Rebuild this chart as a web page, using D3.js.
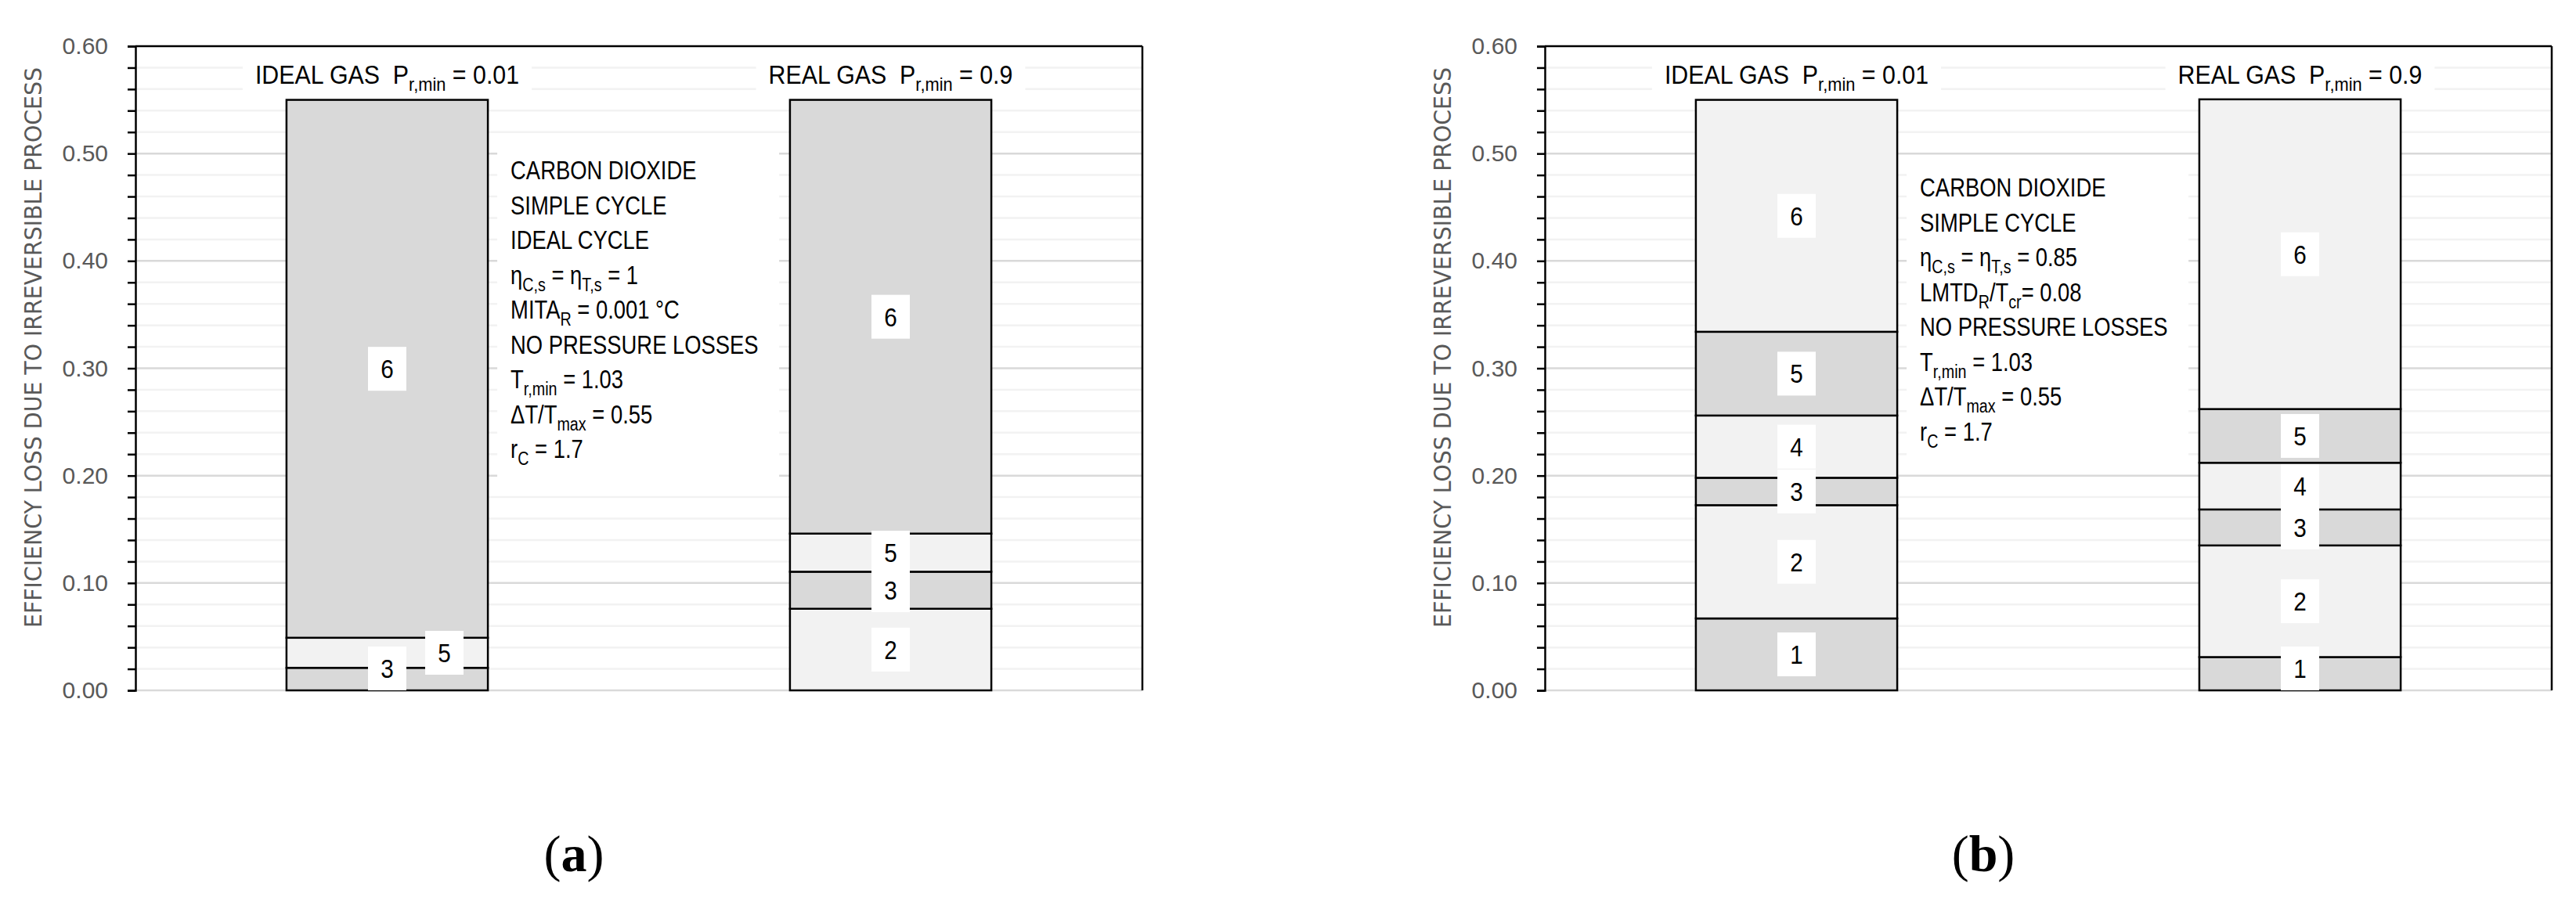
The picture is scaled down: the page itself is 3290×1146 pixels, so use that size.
<!DOCTYPE html>
<html>
<head>
<meta charset="utf-8">
<script src="https://cdn.jsdelivr.net/npm/d3@7.9.0/dist/d3.min.js"></script>
<style>
  html, body { margin: 0; padding: 0; background: #fff; }
  svg { display: block; }
  text { white-space: pre; }
</style>
</head>
<body>
<svg id="chart" width="3290" height="1146"></svg>
<script>
// categories and process numbers
const categories = ["IDEAL GAS", "REAL GAS"];
const prMin = ["0.01", "0.9"];
const processes = ["1", "2", "3", "4", "5", "6"];

// efficiency loss per process (1..6)
const idealA = [0, 0, 0.021, 0, 0.028, 0.501];
const realA = [0, 0.076, 0.0345, 0, 0.0355, 0.404];
const idealB = [0.067, 0.1055, 0.0255, 0.058, 0.078, 0.216];
const realB = [0.031, 0.104, 0.0335, 0.0435, 0.05, 0.2885];

const yTitle = "EFFICIENCY LOSS DUE TO IRREVERSIBLE PROCESS";

// note lines: plain strings are normal text, one-item arrays are subscripts
const notesA = [
  ["CARBON DIOXIDE"],
  ["SIMPLE CYCLE"],
  ["IDEAL CYCLE"],
  ["η", ["C,s"], " = η", ["T,s"], " = 1"],
  ["MITA", ["R"], " = 0.001 °C"],
  ["NO PRESSURE LOSSES"],
  ["T", ["r,min"], " = 1.03"],
  ["ΔT/T", ["max"], " = 0.55"],
  ["r", ["C"], " = 1.7"]
];
const notesB = [
  ["CARBON DIOXIDE"],
  ["SIMPLE CYCLE"],
  ["η", ["C,s"], " = η", ["T,s"], " = 0.85"],
  ["LMTD", ["R"], "/T", ["cr"], "= 0.08"],
  ["NO PRESSURE LOSSES"],
  ["T", ["r,min"], " = 1.03"],
  ["ΔT/T", ["max"], " = 0.55"],
  ["r", ["C"], " = 1.7"]
];

const DARK = "#d9d9d9", LIGHT = "#f2f2f2";
const fillsA = [DARK, LIGHT, DARK, DARK, LIGHT, DARK];
const fillsB = [DARK, LIGHT, DARK, LIGHT, DARK, LIGHT];

const FONT = "'Liberation Sans', Arial, sans-serif";
const svg = d3.select("#chart");

const panels = [
  { ox: 0, ideal: idealA, real: realA, fills: fillsA, notes: notesA, notesTop: 229, tag: "a" },
  { ox: 1800, ideal: idealB, real: realB, fills: fillsB, notes: notesB, notesTop: 251, tag: "b" }
];

// text with subscripts, squeezed horizontally to look like a condensed face
function richText(parent, x, y, parts, size, anchor, squeeze) {
  const t = parent.append("g")
    .attr("transform", `translate(${x},${y}) scale(${squeeze},1)`)
    .append("text")
    .attr("text-anchor", anchor || "start")
    .attr("font-family", FONT)
    .attr("font-size", size)
    .attr("fill", "#000");
  let shift = 0;
  parts.forEach(p => {
    if (Array.isArray(p)) {
      t.append("tspan").attr("dy", 9 - shift).attr("font-size", size * 0.72).text(p[0]);
      shift = 9;
    } else {
      t.append("tspan").attr("dy", -shift).attr("font-size", size).text(p);
      shift = 0;
    }
  });
  return t;
}

function drawPanel(p) {
  const left = 173 + p.ox, right = 1459 + p.ox, top = 59, bottom = 882;
  const g = svg.append("g");

  const y = d3.scaleLinear().domain([0, 0.6]).range([bottom, top]);
  const x = d3.scaleBand().domain(categories).range([left, right])
    .paddingInner(0.6).paddingOuter(0.3);

  const rows = categories.map((c, i) => {
    const vals = i === 0 ? p.ideal : p.real;
    const r = { cat: c };
    processes.forEach((k, j) => r[k] = vals[j]);
    return r;
  });
  const series = d3.stack().keys(processes)(rows);

  // gridlines
  const minor = y.ticks(30);
  const isMajor = d => Math.abs(d * 10 - Math.round(d * 10)) < 1e-6;
  g.append("g").selectAll("line")
    .data(minor.filter(d => d < 0.599))
    .join("line")
    .attr("x1", left).attr("x2", right)
    .attr("y1", d => y(d)).attr("y2", d => y(d))
    .attr("stroke", d => isMajor(d) ? DARK : LIGHT)
    .attr("stroke-width", 2.5);

  // white box behind the notes
  const textX = x(categories[0]) + x.bandwidth() + 29;
  const lh = 44.5;
  const lastBase = p.notesTop + lh * (p.notes.length - 1);
  g.append("rect")
    .attr("x", textX - 17).attr("y", p.notesTop - 40)
    .attr("width", 360).attr("height", lastBase - p.notesTop + 68)
    .attr("fill", "#fff");

  const titleG = g.append("g");

  // border top / right
  g.append("line").attr("x1", left).attr("x2", right).attr("y1", top).attr("y2", top)
    .attr("stroke", "#000").attr("stroke-width", 2.5);
  g.append("line").attr("x1", right).attr("x2", right).attr("y1", top).attr("y2", bottom)
    .attr("stroke", "#000").attr("stroke-width", 2.5);

  // axis with minor ticks, labels only on majors
  const axis = d3.axisLeft(y)
    .tickValues(minor)
    .tickSize(10)
    .tickPadding(25)
    .tickFormat(d => isMajor(d) ? d3.format(".2f")(d) : "");
  const ag = g.append("g").attr("transform", `translate(${left},0)`).call(axis);
  ag.select(".domain").attr("stroke", "#000").attr("stroke-width", 2.5);
  ag.selectAll(".tick line").attr("stroke", "#000").attr("stroke-width", 2.5);
  ag.selectAll(".tick text")
    .attr("font-family", FONT).attr("font-size", 30).attr("fill", "#595959");

  // stacked bars
  series.forEach((s, si) => {
    g.append("g").selectAll("rect")
      .data(s.filter(d => d[1] - d[0] > 0))
      .join("rect")
      .attr("x", d => x(d.data.cat))
      .attr("width", x.bandwidth())
      .attr("y", d => y(d[1]))
      .attr("height", d => y(d[0]) - y(d[1]))
      .attr("fill", p.fills[si])
      .attr("stroke", "#000")
      .attr("stroke-width", 2.5);
  });

  // segment labels
  const bw = 49, bh = 56;
  categories.forEach(cat => {
    let prev = null;
    series.forEach((s, si) => {
      const d = s.find(e => e.data.cat === cat);
      if (d[1] - d[0] <= 0) return;
      const cy = Math.min(y((d[0] + d[1]) / 2), bottom - bh / 2);
      let cx = x(cat) + x.bandwidth() / 2;
      if (prev !== null && Math.abs(prev - cy) < 30) cx += 73;
      prev = cy;
      g.append("rect").attr("x", cx - bw / 2).attr("y", cy - bh / 2)
        .attr("width", bw).attr("height", bh).attr("fill", "#fff");
      richText(g, cx, cy + 12, [processes[si]], 33, "middle", 0.9);
    });
  });

  // category titles
  const tSq = 0.92;
  categories.forEach((cat, i) => {
    const cx = x(cat) + x.bandwidth() / 2;
    const t = richText(titleG, cx, 107, [cat + "  P", ["r,min"], " = " + prMin[i]], 33, "middle", tSq);
    const w = t.node().getBBox().width * tSq;
    titleG.insert("rect", "g")
      .attr("x", cx - w / 2 - 16).attr("y", 70)
      .attr("width", w + 32).attr("height", 52)
      .attr("fill", "#fff");
  });

  // notes
  p.notes.forEach((line, i) => {
    richText(g, textX, p.notesTop + i * lh, line, 33, "start", 0.83);
  });

  // y title
  g.append("text")
    .attr("transform", `translate(${42 + p.ox},444) rotate(-90)`)
    .attr("text-anchor", "middle")
    .attr("dominant-baseline", "central")
    .attr("font-family", "'DejaVu Sans', sans-serif")
    .attr("font-size", 30)
    .attr("fill", "#595959")
    .attr("textLength", 716)
    .attr("lengthAdjust", "spacingAndGlyphs")
    .text(yTitle);

  // caption
  const cap = g.append("text").attr("x", 733 + p.ox).attr("y", 1113)
    .attr("text-anchor", "middle")
    .attr("font-family", "'Liberation Serif', 'Times New Roman', serif")
    .attr("font-size", 66).attr("fill", "#000");
  cap.append("tspan").text("(");
  cap.append("tspan").attr("font-weight", "bold").text(p.tag);
  cap.append("tspan").text(")");
}

panels.forEach(drawPanel);
</script>
</body>
</html>
